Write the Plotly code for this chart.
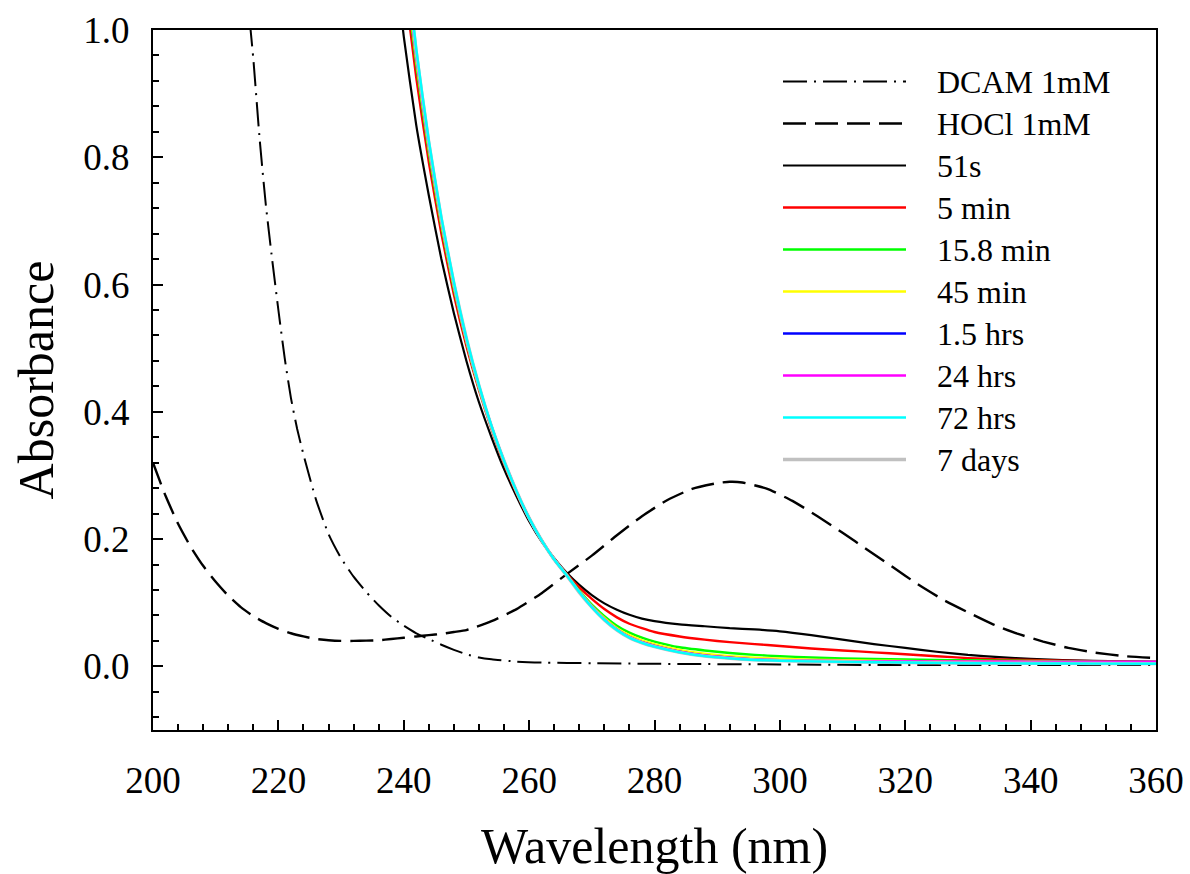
import plotly.graph_objects as go

# ---------------- data ----------------
wl_dcam = [214, 215, 216, 217, 218, 219, 220, 221, 222, 223, 224, 226, 228, 230, 232, 234, 236,
           238, 240, 242, 244, 246, 248, 250, 252, 254, 258, 262, 270, 280, 300, 320, 340, 360]
a_dcam = [1.20, 1.06, 0.955, 0.83, 0.725, 0.64, 0.56, 0.485, 0.422, 0.373, 0.333, 0.262, 0.208,
          0.170, 0.141, 0.117, 0.096, 0.078, 0.064, 0.052, 0.043, 0.034, 0.026, 0.019, 0.014,
          0.011, 0.0075, 0.006, 0.005, 0.004, 0.003, 0.002, 0.002, 0.002]

wl_hocl = [200, 202, 204, 206, 208, 210, 212, 214, 216, 218, 220, 222, 224, 226, 228, 230, 232,
           234, 236, 238, 240, 242, 244, 246, 248, 250, 254, 258, 262, 266, 270, 274, 278, 282,
           286, 290, 292, 294, 298, 302, 306, 310, 314, 318, 322, 326, 330, 334, 338, 342, 346,
           350, 355, 360]
a_hocl = [0.320, 0.268, 0.224, 0.188, 0.158, 0.133, 0.111, 0.093, 0.079, 0.068, 0.059, 0.052,
          0.047, 0.043, 0.041, 0.040, 0.040, 0.0405, 0.041, 0.043, 0.045, 0.047, 0.049, 0.051,
          0.054, 0.057, 0.071, 0.090, 0.115, 0.145, 0.174, 0.206, 0.236, 0.261, 0.279, 0.288,
          0.290, 0.289, 0.279, 0.260, 0.236, 0.210, 0.183, 0.156, 0.129, 0.105, 0.085, 0.066,
          0.051, 0.039, 0.029, 0.022, 0.016, 0.013]

wl_t = [236, 238, 240, 242, 244, 246, 248, 250, 252, 254, 256, 258, 260, 262, 264, 266, 268, 270,
        272, 274, 276, 278, 280, 284, 288, 292, 296, 300, 305, 310, 315, 320, 325, 330, 335, 340,
        350, 360]
a_51s = [1.35, 1.16, 0.99, 0.85, 0.74, 0.64, 0.555, 0.48, 0.415, 0.36, 0.31, 0.267, 0.228, 0.196,
         0.170, 0.147, 0.128, 0.112, 0.099, 0.089, 0.081, 0.075, 0.071, 0.066, 0.063, 0.060,
         0.058, 0.055, 0.049, 0.042, 0.035, 0.029, 0.023, 0.018, 0.0145, 0.0118, 0.0085, 0.007]
a_5min = [1.48, 1.27, 1.085, 0.925, 0.792, 0.68, 0.584, 0.503, 0.434, 0.373, 0.319, 0.272, 0.232,
          0.198, 0.169, 0.145, 0.124, 0.106, 0.090, 0.077, 0.067, 0.060, 0.054, 0.047, 0.042,
          0.038, 0.035, 0.032, 0.028, 0.025, 0.022, 0.019, 0.016, 0.013, 0.011, 0.010, 0.008, 0.007]
a_15min = [1.52, 1.30, 1.11, 0.945, 0.807, 0.692, 0.593, 0.509, 0.437, 0.375, 0.321, 0.274, 0.233,
           0.198, 0.168, 0.144, 0.119, 0.097, 0.079, 0.064, 0.053, 0.045, 0.039, 0.030, 0.025,
           0.021, 0.018, 0.016, 0.014, 0.0125, 0.0115, 0.011, 0.010, 0.0095, 0.009, 0.0085,
           0.0075, 0.007]
a_45min = [1.54, 1.315, 1.12, 0.952, 0.813, 0.696, 0.597, 0.511, 0.438, 0.376, 0.322, 0.274, 0.233,
           0.198, 0.168, 0.143, 0.118, 0.095, 0.076, 0.060, 0.049, 0.041, 0.035, 0.026, 0.020,
           0.016, 0.0135, 0.012, 0.0105, 0.0095, 0.009, 0.0085, 0.008, 0.0078, 0.0075, 0.0072,
           0.0066, 0.006]
a_1_5h = [1.55, 1.325, 1.13, 0.958, 0.818, 0.70, 0.60, 0.513, 0.44, 0.377, 0.323, 0.275, 0.233,
          0.198, 0.168, 0.143, 0.117, 0.094, 0.074, 0.058, 0.046, 0.038, 0.032, 0.023, 0.017,
          0.0135, 0.011, 0.0095, 0.0085, 0.008, 0.0075, 0.007, 0.0065, 0.006, 0.0058, 0.0055,
          0.0052, 0.005]
a_24h = [1.55, 1.325, 1.13, 0.958, 0.818, 0.70, 0.60, 0.513, 0.44, 0.377, 0.323, 0.275, 0.233,
         0.198, 0.168, 0.143, 0.117, 0.094, 0.074, 0.058, 0.046, 0.038, 0.032, 0.023, 0.017,
         0.0135, 0.011, 0.0098, 0.009, 0.0085, 0.008, 0.008, 0.0078, 0.0077, 0.0076, 0.0075,
         0.0073, 0.0072]
a_72h = [1.57, 1.34, 1.145, 0.97, 0.826, 0.706, 0.604, 0.516, 0.442, 0.378, 0.323, 0.275, 0.233,
         0.198, 0.168, 0.143, 0.117, 0.093, 0.073, 0.057, 0.045, 0.037, 0.031, 0.022, 0.016,
         0.0125, 0.010, 0.0088, 0.0078, 0.007, 0.0065, 0.006, 0.0055, 0.005, 0.0048, 0.0046,
         0.0043, 0.004]
a_7d = [1.56, 1.335, 1.14, 0.965, 0.823, 0.703, 0.602, 0.515, 0.441, 0.377, 0.323, 0.275, 0.233,
        0.198, 0.168, 0.143, 0.116, 0.093, 0.073, 0.057, 0.045, 0.037, 0.031, 0.022, 0.016,
        0.0125, 0.0102, 0.009, 0.008, 0.0072, 0.0066, 0.006, 0.0056, 0.0052, 0.005, 0.0048,
        0.0045, 0.0043]

names = ["DCAM 1mM", "HOCl 1mM", "51s", "5 min", "15.8 min", "45 min", "1.5 hrs", "24 hrs",
         "72 hrs", "7 days"]
x_ticks = [200, 220, 240, 260, 280, 300, 320, 340, 360]
y_ticks = [0.0, 0.2, 0.4, 0.6, 0.8, 1.0]

# ---------------- styles ----------------
FONT = "Liberation Serif, Times New Roman, serif"
series = [
    (wl_dcam, a_dcam, "black", 2, "24px,7px,2px,7px"),
    (wl_hocl, a_hocl, "black", 2.4, "23px,9px"),
    (wl_t, a_51s, "black", 2.2, "solid"),
    (wl_t, a_5min, "#ff0000", 2.4, "solid"),
    (wl_t, a_15min, "#00ff00", 2.4, "solid"),
    (wl_t, a_45min, "#ffff00", 2.4, "solid"),
    (wl_t, a_1_5h, "#0000ff", 2.4, "solid"),
    (wl_t, a_24h, "#ff00ff", 2.4, "solid"),
    (wl_t, a_72h, "#00ffff", 2.4, "solid"),
    (wl_t, a_7d, "#c0c0c0", 3.4, "solid"),
]
draw_order = [0, 1, 2, 3, 4, 5, 6, 7, 9, 8]

fig = go.Figure()
for i in draw_order:
    xs, ys, col, w, dash = series[i]
    fig.add_trace(go.Scatter(x=xs, y=ys, mode="lines", name=names[i],
                             line=dict(color=col, width=w, dash=dash, shape="spline",
                                       smoothing=0.5),
                             showlegend=False))

# manual legend (long line samples like the original)
L, R, T, B = 153, 1156, 30, 730
W, H = R - L, B - T
def px(x):
    return (x - L) / W
def py(y):
    return (B - y) / H
shapes = []
annotations = []
for k, nm in enumerate(names):
    _, _, col, w, dash = series[k]
    yc = 81.5 + k * 42.0
    shapes.append(dict(type="line", xref="paper", yref="paper",
                       x0=px(783), x1=px(906), y0=py(yc), y1=py(yc),
                       line=dict(color=col, width=w, dash=dash)))
    annotations.append(dict(xref="paper", yref="paper", x=px(935), y=py(yc),
                            text=nm, showarrow=False, xanchor="left", yanchor="middle",
                            font=dict(family=FONT, size=32, color="black")))

fig.update_layout(
    width=1190, height=874,
    margin=dict(l=L, r=1190 - R, t=T, b=874 - B, autoexpand=False),
    paper_bgcolor="white", plot_bgcolor="white",
    font=dict(family=FONT, color="black"),
    shapes=shapes, annotations=annotations,
    showlegend=False,
)
fig.update_xaxes(
    range=[200, 360], tickvals=x_ticks, ticktext=[str(v) for v in x_ticks],
    ticks="inside", ticklen=10, tickwidth=2, tickcolor="black",
    minor=dict(dtick=4, tick0=200, ticks="inside", ticklen=6, tickwidth=2, tickcolor="black",
               showgrid=False),
    showline=True, linewidth=2, linecolor="black", mirror=True,
    showgrid=False, zeroline=False, automargin=False,
    tickfont=dict(family=FONT, size=37, color="black"), ticklabelstandoff=17,
    title=dict(text="Wavelength (nm)", font=dict(family=FONT, size=50, color="black"),
               standoff=28),
)
fig.update_yaxes(
    range=[-0.1, 1.0], tickvals=y_ticks, ticktext=[f"{v:.1f}" for v in y_ticks],
    ticks="inside", ticklen=10, tickwidth=2, tickcolor="black",
    minor=dict(dtick=0.04, tick0=0, ticks="inside", ticklen=6, tickwidth=2, tickcolor="black",
               showgrid=False),
    showline=True, linewidth=2, linecolor="black", mirror=True,
    showgrid=False, zeroline=False, automargin=False,
    tickfont=dict(family=FONT, size=37, color="black"), ticklabelstandoff=14,
    title=dict(text="Absorbance", font=dict(family=FONT, size=50, color="black"), standoff=14),
)

fig.write_html("out.html")
